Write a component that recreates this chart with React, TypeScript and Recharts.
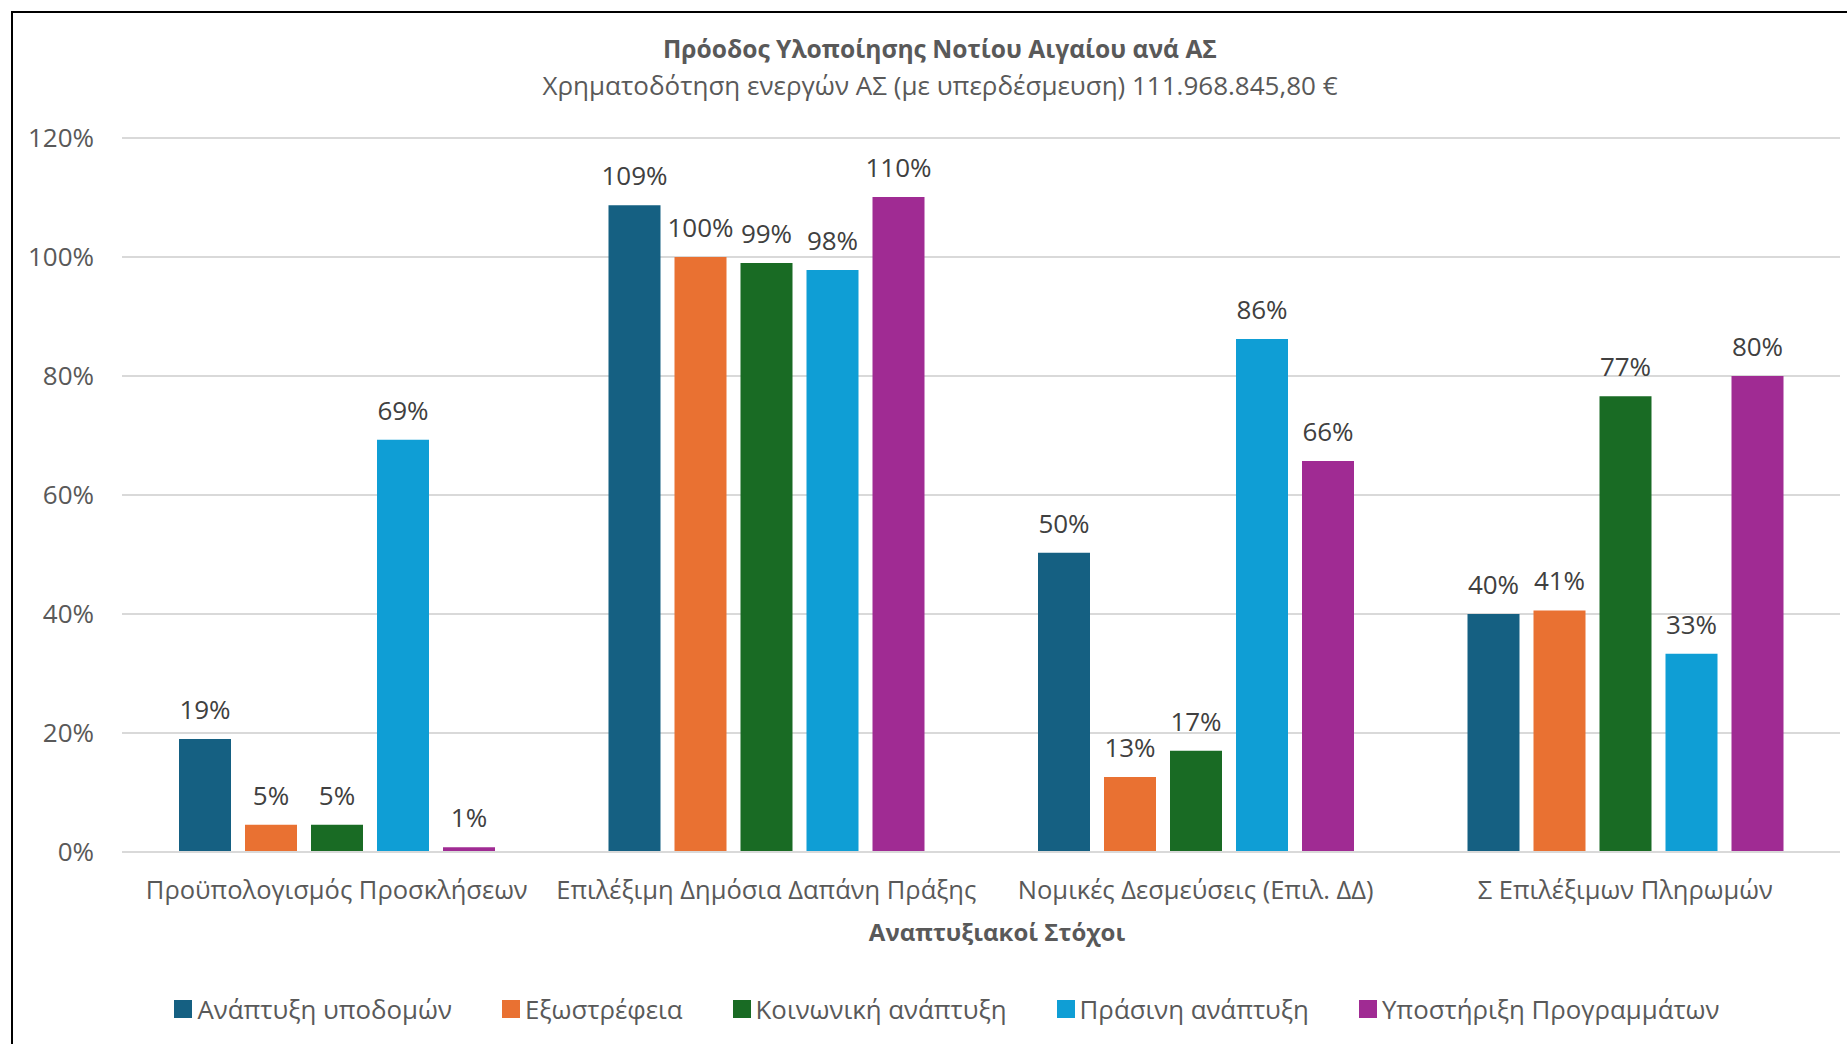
import React from 'react';
import { BarChart, Bar, XAxis, YAxis, CartesianGrid, LabelList, Legend } from 'recharts';

const categories = [
  'Προϋπολογισμός Προσκλήσεων',
  'Επιλέξιμη Δημόσια Δαπάνη Πράξης',
  'Νομικές Δεσμεύσεις (Επιλ. ΔΔ)',
  'Σ Επιλέξιμων Πληρωμών',
];
const seriesNames = [
  'Ανάπτυξη υποδομών',
  'Εξωστρέφεια',
  'Κοινωνική ανάπτυξη',
  'Πράσινη ανάπτυξη',
  'Υποστήριξη Προγραμμάτων',
];
const seriesColors = ['#156082', '#E97132', '#196B24', '#0F9ED5', '#A02B93'];
const infraValues = [0.19, 1.087, 0.503, 0.40];
const outwardValues = [0.046, 1.0, 0.126, 0.406];
const socialValues = [0.046, 0.99, 0.17, 0.766];
const greenValues = [0.693, 0.978, 0.862, 0.333];
const supportValues = [0.008, 1.101, 0.657, 0.80];
const yTicks = [0, 0.2, 0.4, 0.6, 0.8, 1.0, 1.2];

const seriesValues = [infraValues, outwardValues, socialValues, greenValues, supportValues];
const keys = ['s0', 's1', 's2', 's3', 's4'];

const data = categories.map((c, i) => {
  const row: any = { name: c };
  keys.forEach((k, j) => {
    row[k] = seriesValues[j][i];
  });
  return row;
});

const FONT = '"Open Sans", sans-serif';
const pct = (v: any) => `${Math.round(Number(v) * 100)}%`;

const legendGaps = [0, 50, 50, 50, 50];

const renderLegend = (props: any) => {
  const { payload } = props;
  return (
    <div style={{ height: 40, display: 'flex', justifyContent: 'center', alignItems: 'center', fontFamily: FONT, fontSize: 25.8, color: '#595959' }}>
      {payload.map((p: any, i: number) => (
        <div key={i} style={{ display: 'flex', alignItems: 'center', marginLeft: i === 0 ? 0 : legendGaps[i] }}>
          <span style={{ display: 'inline-block', width: 18, height: 18, background: p.color, marginRight: 5 }} />
          <span>{p.value}</span>
        </div>
      ))}
    </div>
  );
};

export default function App() {
  return (
    <div style={{ position: 'absolute', left: 0, top: 0, width: 1847, height: 1044, background: '#fff', overflow: 'hidden', fontFamily: FONT }}>
      <div style={{ position: 'absolute', left: 11, top: 11, width: 1900, height: 1100, borderLeft: '2px solid #000', borderTop: '2px solid #000', boxSizing: 'border-box' }} />
      <div style={{ position: 'absolute', left: 0, width: 1880, top: 32, textAlign: 'center', fontSize: 24.6, fontWeight: 700, color: '#595959', whiteSpace: 'nowrap' }}>
        Πρόοδος Υλοποίησης Νοτίου Αιγαίου ανά ΑΣ
      </div>
      <div style={{ position: 'absolute', left: 0, width: 1880, top: 67, textAlign: 'center', fontSize: 26, color: '#595959', whiteSpace: 'nowrap' }}>
        Χρηματοδότηση ενεργών ΑΣ (με υπερδέσμευση) 111.968.845,80 €
      </div>
      <div style={{ position: 'absolute', left: 0, width: 1994, top: 915, textAlign: 'center', fontSize: 24, fontWeight: 700, color: '#595959', whiteSpace: 'nowrap' }}>
        Αναπτυξιακοί Στόχοι
      </div>
      <div style={{ position: 'absolute', left: 0, top: 0 }}>
        <BarChart
          width={1847}
          height={1044}
          data={data}
          margin={{ top: 138, right: 7, bottom: 0, left: 22 }}
          barSize={52}
          barGap={14}
        >
          <CartesianGrid vertical={false} stroke="#D9D9D9" strokeWidth={2} />
          <XAxis
            dataKey="name"
            axisLine={{ stroke: '#D9D9D9', strokeWidth: 2 }}
            tickLine={false}
            tickSize={0}
            tickMargin={29}
            interval={0}
            height={152}
            tick={{ fill: '#595959', fontSize: 25.5, fontFamily: FONT }}
          />
          <YAxis
            width={100}
            domain={[0, 1.2]}
            ticks={yTicks}
            tickFormatter={pct}
            axisLine={false}
            tickLine={false}
            tickSize={0}
            tickMargin={28}
            tick={{ fill: '#595959', fontSize: 26, fontFamily: FONT }}
          />
          <Legend
            verticalAlign="bottom"
            align="left"
            content={renderLegend}
            wrapperStyle={{ left: 0, width: 1894, height: 40, bottom: 15 }}
          />
          {keys.map((k, j) => (
            <Bar key={k} dataKey={k} name={seriesNames[j]} fill={seriesColors[j]} isAnimationActive={false}>
              <LabelList dataKey={k} position="top" offset={20} formatter={pct} style={{ fill: '#404040', fontSize: 26, fontFamily: FONT }} />
            </Bar>
          ))}
        </BarChart>
      </div>
    </div>
  );
}
